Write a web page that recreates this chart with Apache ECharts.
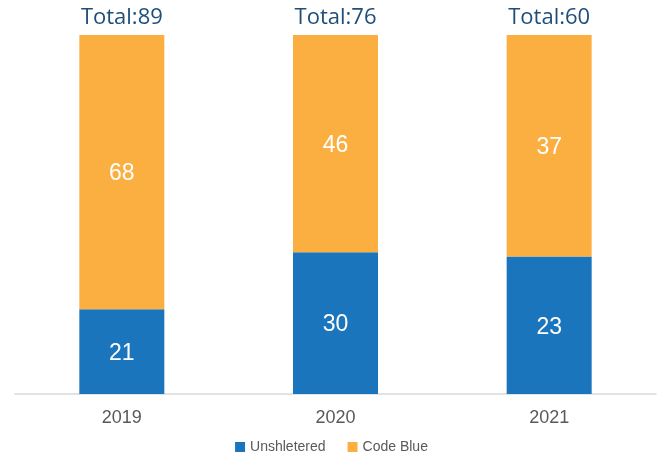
<!DOCTYPE html>
<html>
<head>
<meta charset="utf-8">
<script src="https://cdn.jsdelivr.net/npm/echarts@6/dist/echarts.min.js"></script>
<style>
  html, body { margin: 0; padding: 0; background: #fff; }
  #chart { width: 663px; height: 457px; }
</style>
</head>
<body>
<div id="chart"></div>
<script>
const years = ["2019", "2020", "2021"];
const unsheltered = [21, 30, 23];
const codeBlue = [68, 46, 37];
const totals = [89, 76, 60];

// bars are drawn as share of each year's total, labels show the raw counts
const share = (arr) => arr.map((v, i) => v / totals[i]);

const chart = echarts.init(document.getElementById("chart"));

const option = {
  animation: false,
  grid: { left: 15, right: 7, top: 35, bottom: 63 },
  legend: {
    data: ["Unshletered", "Code Blue"],
    bottom: -2,
    left: "center",
    itemWidth: 10,
    itemHeight: 10,
    itemGap: 22,
    icon: "rect",
    textStyle: { color: "#595959", fontSize: 14, fontFamily: "Liberation Sans" },
  },
  xAxis: {
    type: "category",
    data: years,
    axisLine: { lineStyle: { color: "#d9d9d9", width: 1.5 } },
    axisTick: { show: false },
    axisLabel: { color: "#595959", fontSize: 18, fontFamily: "Liberation Sans", margin: 15 },
  },
  yAxis: { type: "value", min: 0, max: 1, show: false },
  series: [
    {
      name: "Unshletered",
      type: "bar",
      stack: "s",
      barWidth: 85,
      data: share(unsheltered),
      itemStyle: { color: "#1b75bc" },
      label: {
        show: true,
        position: "inside",
        offset: [0, 2],
        color: "#fff",
        fontSize: 23,
        fontFamily: "Liberation Sans",
        formatter: (p) => unsheltered[p.dataIndex],
      },
    },
    {
      name: "Code Blue",
      type: "bar",
      stack: "s",
      barWidth: 85,
      data: share(codeBlue),
      itemStyle: { color: "#fbaf41" },
      label: {
        show: true,
        position: "inside",
        offset: [0, 2],
        color: "#fff",
        fontSize: 23,
        fontFamily: "Liberation Sans",
        formatter: (p) => codeBlue[p.dataIndex],
      },
    },
    {
      name: "Total",
      type: "bar",
      stack: "s",
      barWidth: 85,
      data: totals.map(() => 0),
      itemStyle: { color: "transparent" },
      label: {
        show: true,
        position: "top",
        distance: 6,
        color: "#1f4e79",
        fontSize: 22,
        fontFamily: "Open Sans",
        formatter: (p) => "Total:" + totals[p.dataIndex],
      },
    },
  ],
};

chart.setOption(option);
</script>
</body>
</html>
